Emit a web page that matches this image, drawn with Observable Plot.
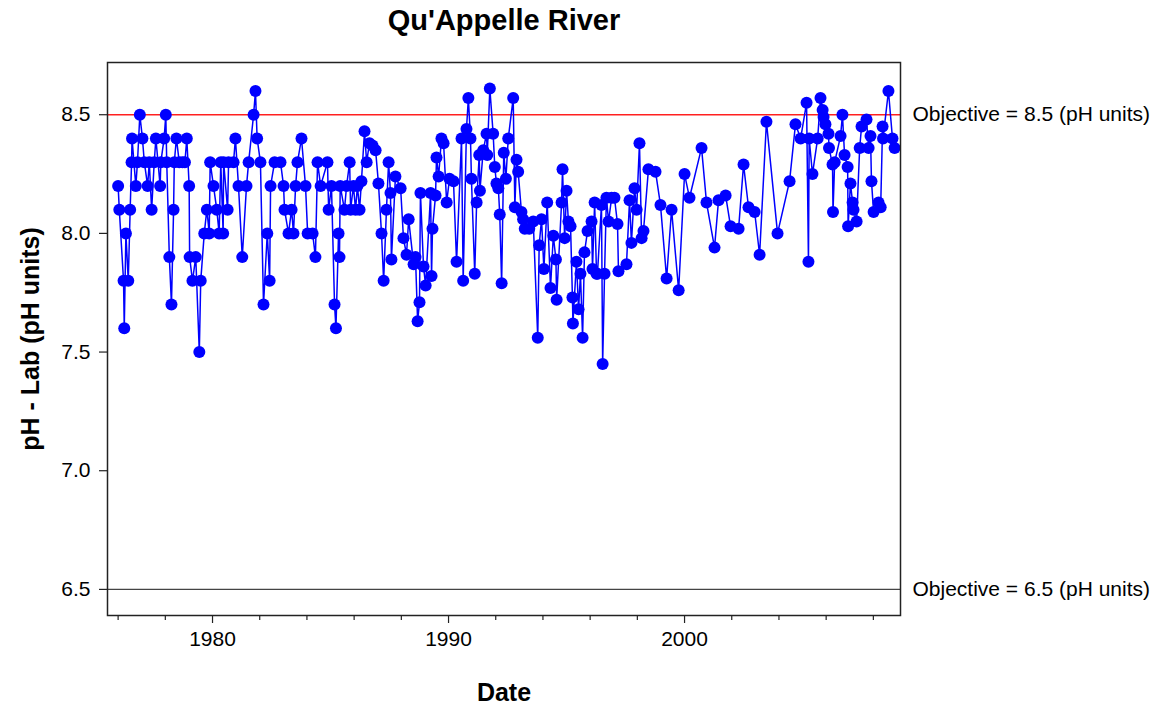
<!DOCTYPE html>
<html>
<head>
<meta charset="utf-8">
<script src="https://cdn.jsdelivr.net/npm/d3@7"></script>
<script src="https://cdn.jsdelivr.net/npm/@observablehq/plot@0.6"></script>
<style>
  html, body { margin: 0; padding: 0; background: #fff; }
  #chart svg { display: block; }
</style>
</head>
<body>
<div id="chart"></div>
<script>
const titleText = "Qu'Appelle River";
const xLabel = "Date";
const yLabel = "pH - Lab (pH units)";

const years = [
1976.00,1976.05,1976.23,1976.26,1976.33,1976.43,1976.51,1976.57,1976.59,1976.75,1976.82,1976.92,
1977.03,1977.11,1977.25,1977.32,1977.42,1977.53,1977.60,1977.78,1977.81,1977.95,
1978.02,1978.06,1978.17,1978.26,1978.35,1978.38,1978.47,1978.59,1978.73,1978.83,1978.91,
1979.01,1979.03,1979.15,1979.29,1979.44,1979.50,1979.65,1979.76,1979.86,1979.90,
1980.04,1980.18,1980.28,1980.35,1980.45,1980.47,1980.64,1980.68,1980.89,1980.97,
1981.10,1981.26,1981.44,1981.53,1981.74,1981.82,1981.89,
1982.03,1982.16,1982.32,1982.42,1982.46,1982.63,1982.88,
1983.01,1983.05,1983.22,1983.35,1983.43,1983.52,1983.60,1983.77,1983.94,
1984.03,1984.24,1984.36,1984.45,1984.58,1984.87,1984.92,
1985.04,1985.17,1985.23,1985.34,1985.38,1985.41,1985.59,1985.68,1985.81,1985.85,1985.97,
1986.06,1986.14,1986.23,1986.31,1986.44,1986.53,1986.65,1986.78,1986.91,
1987.03,1987.16,1987.25,1987.37,1987.46,1987.54,1987.58,1987.75,1987.97,
1988.09,1988.22,1988.31,1988.52,1988.60,1988.69,1988.77,1988.81,1988.94,
1989.03,1989.24,1989.28,1989.32,1989.45,1989.49,1989.58,1989.70,1989.79,1989.92,
1990.04,1990.21,1990.34,1990.55,1990.62,1990.76,1990.84,1990.93,1990.97,
1991.11,1991.19,1991.30,1991.33,1991.47,1991.61,1991.64,1991.75,1991.89,1991.96,
1992.03,1992.11,1992.17,1992.25,1992.34,1992.43,1992.53,1992.74,1992.81,1992.88,1992.95,
1993.09,1993.16,1993.23,1993.42,1993.59,1993.78,1993.84,1993.94,
1994.04,1994.18,1994.32,1994.44,1994.55,1994.58,1994.79,1994.83,1994.92,
1995.00,1995.08,1995.17,1995.25,1995.27,1995.42,1995.51,1995.59,1995.68,1995.76,1995.89,
1996.06,1996.10,1996.19,1996.27,1996.31,1996.48,1996.53,1996.61,1996.69,1996.78,1996.91,
1997.03,1997.16,1997.20,1997.54,1997.67,1997.75,1997.88,1997.97,
1998.09,1998.18,1998.26,1998.47,1998.77,1998.98,
1999.24,1999.45,1999.75,
2000.00,2000.21,2000.72,2000.93,
2001.27,2001.44,2001.74,2001.95,
2002.29,2002.50,2002.71,2002.97,
2003.18,2003.47,2003.94,
2004.45,2004.70,2004.92,
2005.17,2005.25,2005.28,2005.42,2005.64,2005.76,2005.85,2005.89,2005.97,
2006.10,2006.12,2006.27,2006.29,2006.36,2006.61,2006.69,2006.78,2006.91,2006.93,
2007.03,2007.12,2007.16,2007.29,2007.42,2007.50,2007.71,2007.80,2007.88,2007.92,
2008.01,2008.22,2008.31,2008.39,2008.41,2008.64,2008.81,2008.90
];

const ph = [
8.2,8.1,7.8,7.6,8.0,7.8,8.1,8.3,8.4,8.2,8.3,8.5,
8.4,8.3,8.2,8.3,8.1,8.3,8.4,8.2,8.3,8.4,
8.5,8.3,7.9,7.7,8.1,8.3,8.4,8.3,8.3,8.3,8.4,
8.2,7.9,7.8,7.9,7.5,7.8,8.0,8.1,8.0,8.3,
8.2,8.1,8.0,8.3,8.0,8.3,8.1,8.3,8.3,8.4,
8.2,7.9,8.2,8.3,8.5,8.6,8.4,
8.3,7.7,8.0,7.8,8.2,8.3,8.3,
8.2,8.1,8.0,8.1,8.0,8.2,8.3,8.4,8.2,
8.0,8.0,7.9,8.3,8.2,8.3,8.1,
8.2,7.7,7.6,8.0,7.9,8.2,8.1,8.2,8.3,8.1,8.2,
8.1,8.2,8.1,8.22,8.43,8.30,8.38,8.37,8.35,
8.21,8.00,7.80,8.10,8.30,8.17,7.89,8.24,8.19,
7.98,7.91,8.06,7.87,7.90,7.63,7.71,8.17,7.86,
7.78,8.17,7.82,8.02,8.16,8.32,8.24,8.40,8.38,8.13,
8.23,8.22,7.88,8.40,7.80,8.44,8.57,8.40,8.23,
7.83,8.13,8.33,8.18,8.35,8.42,8.33,8.61,8.42,8.28,
8.21,8.19,8.08,7.79,8.34,8.23,8.40,8.57,8.11,8.31,8.26,
8.09,8.06,8.02,8.02,8.05,7.56,7.95,8.06,
7.85,8.13,7.77,7.99,7.89,7.72,8.13,8.27,7.98,
8.18,8.05,8.03,7.73,7.62,7.88,7.68,7.83,7.56,7.92,8.01,
8.05,7.85,8.13,7.83,7.83,8.12,7.45,7.83,8.15,8.05,8.15,
8.15,8.04,7.84,7.87,8.14,7.96,8.19,8.10,
8.38,7.98,8.01,8.27,8.26,8.12,
7.81,8.10,7.76,
8.25,8.15,8.36,8.13,
7.94,8.14,8.16,8.03,
8.02,8.29,8.11,8.09,
7.91,8.47,8.00,
8.22,8.46,8.40,
8.55,7.88,8.40,8.25,8.40,8.57,8.52,8.49,8.46,
8.42,8.36,8.29,8.09,8.30,8.41,8.50,8.33,8.28,8.03,
8.21,8.13,8.10,8.05,8.36,8.45,8.48,8.36,8.41,8.22,
8.09,8.13,8.11,8.45,8.40,8.60,8.40,8.36
];

const xMajorTicks = [1980, 1990, 2000];
const xMinorTicks = [1976, 1978, 1982, 1984, 1986, 1988, 1992, 1994, 1996, 1998, 2002, 2004, 2006, 2008];
const yTicks = [6.5, 7.0, 7.5, 8.0, 8.5];
const objectives = [8.5, 6.5];

const xDomain = [1975.55, 2009.15];
const yDomain = [6.39, 8.72];

const data = years.map((yr, i) => ({year: yr, ph: ph[i]}));
const font = "'Liberation Sans', Arial, Helvetica, sans-serif";

const chart = Plot.plot({
  width: 1164,
  height: 708,
  marginTop: 62,
  marginBottom: 93,
  marginLeft: 107,
  marginRight: 264,
  style: {fontFamily: font, fontSize: "21px", color: "#000", background: "#fff"},
  x: {domain: xDomain, type: "linear"},
  y: {domain: yDomain},
  marks: [
    Plot.ruleY([objectives[0]], {stroke: "#ff2020", strokeWidth: 1.5}),
    Plot.ruleY([objectives[1]], {stroke: "#444", strokeWidth: 1.3}),
    Plot.line(data, {x: "year", y: "ph", stroke: "#0000ff", strokeWidth: 1.5}),
    Plot.dot(data, {x: "year", y: "ph", r: 6, fill: "#0000ff", stroke: "none"}),
    Plot.frame({stroke: "#222", strokeWidth: 1.5}),
    Plot.axisY({ticks: yTicks, tickFormat: d3.format(".1f"), tickSize: 8, tickPadding: 9, label: null, stroke: "#222", strokeWidth: 1.2, fontSize: 21}),
    Plot.axisX({ticks: xMinorTicks, tickFormat: () => "", tickSize: 5, label: null, stroke: "#222", strokeWidth: 1.2}),
    Plot.axisX({ticks: xMajorTicks, tickFormat: "d", tickSize: 8, tickPadding: 8, label: null, stroke: "#222", strokeWidth: 1.2, fontSize: 21}),
    Plot.text(objectives, {x: () => xDomain[1], y: d => d, text: d => `Objective = ${d} (pH units)`, textAnchor: "start", dx: 12, fontSize: 21, fill: "#000"}),
    Plot.text([titleText], {frameAnchor: "top", dy: -42, lineAnchor: "middle", fontSize: 29, fontWeight: "bold", fill: "#000"}),
    Plot.text([xLabel], {frameAnchor: "bottom", dy: 77, lineAnchor: "middle", fontSize: 25, fontWeight: "bold", fill: "#000"}),
    Plot.text([yLabel], {frameAnchor: "left", dx: -77, rotate: -90, textAnchor: "middle", lineAnchor: "middle", fontSize: 25, fontWeight: "bold", fill: "#000"})
  ]
});

document.getElementById("chart").append(chart);
</script>
</body>
</html>
